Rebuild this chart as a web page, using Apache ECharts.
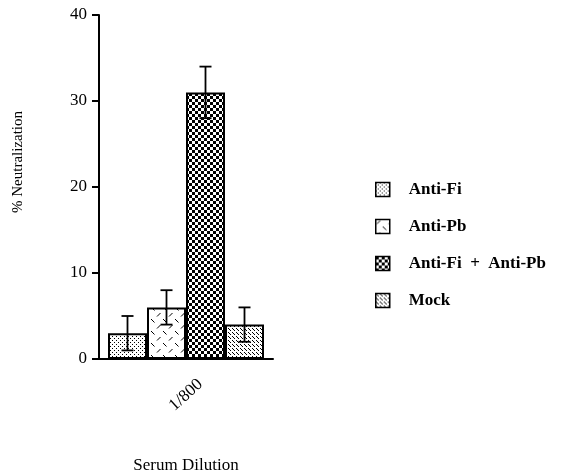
<!DOCTYPE html>
<html><head><meta charset="utf-8">
<script src="https://cdn.jsdelivr.net/npm/echarts@6/dist/echarts.min.js"></script>
<style>html,body{margin:0;padding:0;background:#fff}#c{width:563px;height:474px}</style>
</head><body><div id="c"></div>
<script>
const categories = ['1/800'];
const seriesNames = ['Anti-Fi', 'Anti-Pb', 'Anti-Fi + Anti-Pb', 'Mock'];
const antiFi = [3];
const antiPb = [6];
const antiFiPb = [31];
const mock = [4];
const errAntiFi = [2];
const errAntiPb = [2];
const errAntiFiPb = [3];
const errMock = [2];
const yTicks = [0, 10, 20, 30, 40];

const values = [antiFi, antiPb, antiFiPb, mock];
const errs = [errAntiFi, errAntiPb, errAntiFiPb, errMock];

function makePattern(kind) {
  const c = document.createElement('canvas');
  const ctx = c.getContext('2d');
  if (kind === 0) {
    c.width = 4; c.height = 4;
    ctx.fillStyle = '#fff'; ctx.fillRect(0, 0, 4, 4);
    ctx.fillStyle = '#000';
    ctx.fillRect(0, 0, 1, 1); ctx.fillRect(2, 2, 1, 1);
  } else if (kind === 1) {
    c.width = 12; c.height = 12;
    ctx.fillStyle = '#fff'; ctx.fillRect(0, 0, 12, 12);
    ctx.strokeStyle = '#000'; ctx.lineWidth = 1;
    ctx.beginPath();
    ctx.moveTo(1, 4.5); ctx.lineTo(4.5, 1);
    ctx.moveTo(7, 7); ctx.lineTo(10.5, 10.5);
    ctx.stroke();
  } else if (kind === 2) {
    c.width = 6; c.height = 6;
    ctx.fillStyle = '#fff'; ctx.fillRect(0, 0, 6, 6);
    ctx.fillStyle = '#000';
    ctx.fillRect(0, 0, 3, 3); ctx.fillRect(3, 3, 3, 3);
  } else {
    c.width = 4; c.height = 4;
    ctx.fillStyle = '#fff'; ctx.fillRect(0, 0, 4, 4);
    ctx.strokeStyle = '#000'; ctx.lineWidth = 1;
    ctx.beginPath();
    ctx.moveTo(0, 0); ctx.lineTo(3, 3);
    ctx.stroke();
  }
  return { image: c, repeat: 'repeat' };
}

const serif = 'Liberation Serif';
const barW = 39;

const barSeries = seriesNames.map((name, i) => ({
  name: name,
  type: 'bar',
  data: values[i],
  barWidth: barW,
  barGap: '0%',
  itemStyle: { color: makePattern(i), borderColor: '#000', borderWidth: 2 },
  emphasis: { disabled: true },
  z: 2
}));

const errData = seriesNames.map((n, i) => [0, values[i][0], errs[i][0], i]);

const errSeries = {
  type: 'custom',
  data: errData,
  encode: { x: 0, y: 1 },
  z: 5,
  renderItem: function (params, api) {
    const v = api.value(1), e = api.value(2), idx = api.value(3);
    const cx = api.coord([api.value(0), 0])[0] + (idx - 1.5) * barW;
    const yt = api.coord([0, v + e])[1];
    const yb = api.coord([0, v - e])[1];
    const hw = 6;
    const st = { stroke: '#000', lineWidth: 1.8 };
    return {
      type: 'group',
      children: [
        { type: 'line', shape: { x1: cx, y1: yt, x2: cx, y2: yb }, style: st },
        { type: 'line', shape: { x1: cx - hw, y1: yt, x2: cx + hw, y2: yt }, style: st },
        { type: 'line', shape: { x1: cx - hw, y1: yb, x2: cx + hw, y2: yb }, style: st }
      ]
    };
  }
};

const chart = echarts.init(document.getElementById('c'), null, { renderer: 'canvas' });
chart.setOption({
  animation: false,
  backgroundColor: '#fff',
  grid: { left: 99, top: 15, width: 174, height: 344, containLabel: false, outerBoundsMode: 'none' },
  legend: {
    data: seriesNames,
    orient: 'vertical',
    left: 370,
    top: 176,
    itemWidth: 14,
    itemHeight: 14,
    itemGap: 20,
    icon: 'rect',
    selectedMode: false,
    itemStyle: { borderColor: '#000', borderWidth: 1.5 },
    formatter: function (name) { return name.replace(' + ', '  +  '); },
    textStyle: { fontFamily: serif, fontWeight: 'bold', fontSize: 17, color: '#000', padding: [0, 0, 0, 14] }
  },
  graphic: [{
    type: 'text',
    x: 18,
    y: 162,
    rotation: Math.PI / 2,
    style: { text: '% Neutralization', fontFamily: serif, fontSize: 15, fill: '#000', align: 'center', verticalAlign: 'middle' }
  }],
  xAxis: {
    type: 'category',
    data: categories,
    name: 'Serum Dilution',
    nameLocation: 'middle',
    nameGap: 98,
    nameTextStyle: { fontFamily: serif, fontSize: 17, color: '#000' },
    axisLine: { lineStyle: { color: '#000', width: 2 } },
    axisTick: { alignWithLabel: true, length: 9, lineStyle: { color: '#000', width: 2 } },
    axisLabel: { rotate: 42, align: 'center', verticalAlign: 'middle', margin: 36, fontFamily: serif, fontSize: 17, color: '#000' }
  },
  yAxis: {
    type: 'value',
    min: yTicks[0],
    max: yTicks[yTicks.length - 1],
    interval: 10,
    splitLine: { show: false },
    axisLine: { show: true, lineStyle: { color: '#000', width: 2 } },
    axisTick: { show: true, length: 7, lineStyle: { color: '#000', width: 2 } },
    axisLabel: { fontFamily: serif, fontSize: 17, color: '#000', margin: 12 }
  },
  series: barSeries.concat([errSeries])
});
</script></body></html>
